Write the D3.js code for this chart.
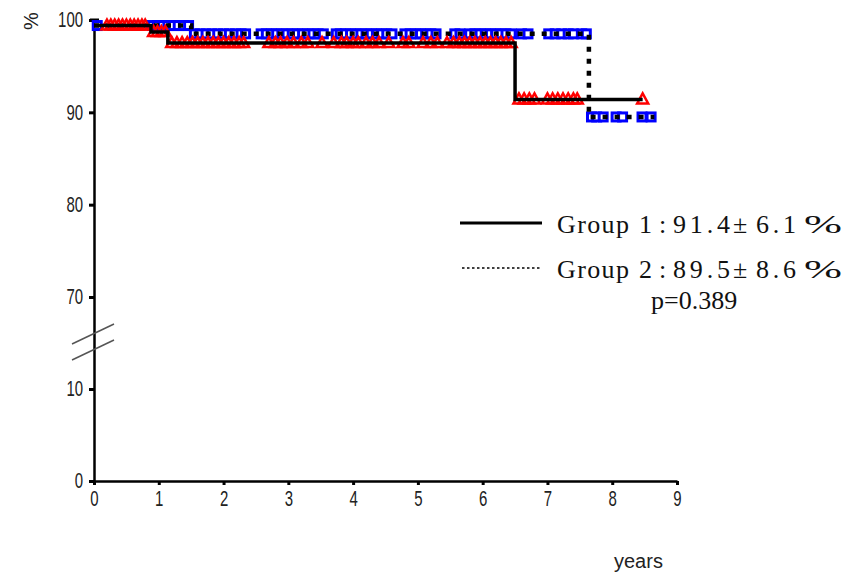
<!DOCTYPE html>
<html>
<head>
<meta charset="utf-8">
<script src="https://cdn.jsdelivr.net/npm/d3@7"></script>
<style>
  body { margin: 0; background: white; }
  svg { display: block; }
</style>
</head>
<body>
<script>
// axis ticks
const xTicks = [0, 1, 2, 3, 4, 5, 6, 7, 8, 9];
const yTicks = [0, 10, 70, 80, 90, 100];

// group 1 (solid, red triangles)
const g1StepTimes = [0, 0.88, 1.14, 6.5];
const g1StepValues = [99.4, 98.7, 97.5, 91.4];
const g1EndTime = 8.47;
const g1Censored = [
    0.2, 0.26, 0.32, 0.38, 0.44, 0.5, 0.56, 0.62, 0.68, 0.74, 0.79,
    0.92, 0.98, 1.04, 1.1,
    1.2, 1.28, 1.36, 1.44, 1.52, 1.6, 1.68, 1.76, 1.84, 1.92, 2.0, 2.08, 2.16, 2.24, 2.31,
    2.7, 2.8, 2.88, 2.98, 3.08, 3.2, 3.3, 3.52, 3.7, 3.82, 3.9, 4.0, 4.08, 4.2, 4.3, 4.4,
    4.55, 4.77, 4.86, 5.08, 5.2, 5.3, 5.45, 5.55, 5.64, 5.72, 5.8, 5.88, 5.96, 6.04,
    6.12, 6.2, 6.28, 6.36, 6.44,
    6.56, 6.64, 6.72, 6.8, 7.0, 7.08, 7.16, 7.24, 7.32, 7.4, 7.46, 8.47
];

// group 2 (dotted, blue squares)
const g2StepTimes = [0, 1.5, 7.64];
const g2StepValues = [99.4, 98.5, 89.5];
const g2EndTime = 8.65;
const g2Censored = [
    0.05, 0.9, 0.98, 1.06, 1.14, 1.22, 1.3, 1.38, 1.46,
    1.55, 1.64, 1.73, 1.82, 1.91, 2.0, 2.09, 2.18, 2.27, 2.34,
    2.58, 2.66, 2.74, 2.82, 2.9, 2.98, 3.06, 3.14, 3.22, 3.3, 3.38, 3.46, 3.54,
    3.74, 3.8, 3.88, 3.96, 4.04, 4.12, 4.2, 4.28, 4.36, 4.44, 4.52, 4.6,
    4.8, 4.88, 4.96, 5.04, 5.12, 5.2, 5.28, 5.57, 5.65,
    5.8, 5.88, 5.96, 6.04, 6.12, 6.2, 6.28, 6.36, 6.44, 6.6, 6.7,
    7.02, 7.12, 7.22, 7.32, 7.4, 7.53, 7.6,
    7.68, 7.76, 7.86, 8.06, 8.16, 8.46, 8.6
];

// legend: survival estimate and its ± part, per group
const legendNames = ["Group", "Group"];
const legendNums = ["1", "2"];
const legendEst = ["91.4", "89.5"];
const legendErr = ["6.1", "8.6"];
const pText = "p=0.389";

const width = 854, height = 577;

const svg = d3.select("body").append("svg")
    .attr("width", width)
    .attr("height", height);

svg.append("rect").attr("width", width).attr("height", height).attr("fill", "white");

const x = d3.scaleLinear().domain([0, 9]).range([94, 677]);
// broken axis: 10..70 squeezed into one interval
const y = d3.scaleLinear().domain([0, 10, 70, 100]).range([481, 389, 297, 20]);

const tickFont = "'Liberation Sans', Arial, sans-serif";
const sx = 0.88, sy = 1.25;

// y axis
const yAxis = svg.append("g")
    .attr("transform", `translate(${x(0)},0)`)
    .call(d3.axisLeft(y).tickValues(yTicks).tickSize(5).tickSizeOuter(0).tickPadding(6));
yAxis.select(".domain").attr("stroke", "black").attr("stroke-width", 2.5);
yAxis.selectAll(".tick line").attr("stroke", "black").attr("stroke-width", 3);
yAxis.selectAll(".tick text")
    .style("font-family", tickFont)
    .style("font-size", "17px")
    .attr("fill", "#222")
    .attr("x", -11 / sx)
    .attr("y", -1 / sy)
    .attr("dy", "0.36em")
    .attr("transform", `scale(${sx},${sy})`);
// little cap at the top of the y axis
yAxis.append("line")
    .attr("x1", -4).attr("x2", 5)
    .attr("y1", y(100)).attr("y2", y(100))
    .attr("stroke", "black").attr("stroke-width", 3);

// x axis
const xAxis = svg.append("g")
    .attr("transform", `translate(0,${y(0)})`)
    .call(d3.axisBottom(x).tickValues(xTicks).tickSize(4).tickSizeOuter(0).tickPadding(6));
xAxis.select(".domain").attr("stroke", "black").attr("stroke-width", 2.5);
xAxis.selectAll(".tick line").attr("stroke", "black").attr("stroke-width", 3);
xAxis.selectAll(".tick text")
    .style("font-family", tickFont)
    .style("font-size", "17px")
    .attr("fill", "#222")
    .attr("y", 10 / sy)
    .attr("transform", `scale(${sx},${sy})`);

// break marks between 10 and 70
const breakMid = (y(10) + y(70)) / 2;
[-9, 7].forEach(off => {
    svg.append("line")
        .attr("x1", x(0) - 22).attr("y1", breakMid + off + 10)
        .attr("x2", x(0) + 20).attr("y2", breakMid + off - 10)
        .attr("stroke", "#555")
        .attr("stroke-width", 1.5);
});

// axis titles
svg.append("text")
    .attr("transform", "translate(33,21) rotate(-90)")
    .attr("text-anchor", "middle")
    .attr("dominant-baseline", "middle")
    .style("font-family", tickFont)
    .style("font-size", "20px")
    .attr("fill", "#222")
    .text("%");

svg.append("text")
    .attr("x", 614).attr("y", 568)
    .style("font-family", "'Liberation Sans', Arial, sans-serif")
    .style("font-size", "20px")
    .attr("fill", "#222")
    .text("years");

// curves
function stepPoints(times, values, end) {
    var pts = times.map((t, i) => [t, values[i]]);
    pts.push([end, values[values.length - 1]]);
    return pts;
}

function valueAt(times, values, t) {
    var v = values[0];
    times.forEach((s, i) => { if (s <= t) v = values[i]; });
    return v;
}

const stepLine = d3.line()
    .x(d => x(d[0]))
    .y(d => y(d[1]))
    .curve(d3.curveStepAfter);

const plot = svg.append("g");

// group 2 markers + dotted line
plot.append("g").selectAll("rect")
    .data(g2Censored)
    .join("rect")
    .attr("x", d => x(d) - 4)
    .attr("y", d => y(valueAt(g2StepTimes, g2StepValues, d)) - 4)
    .attr("width", 8)
    .attr("height", 8)
    .attr("fill", "white")
    .attr("stroke", "#0000ff")
    .attr("stroke-width", 3);

plot.append("path")
    .datum(stepPoints(g2StepTimes, g2StepValues, g2EndTime))
    .attr("d", stepLine)
    .attr("fill", "none")
    .attr("stroke", "black")
    .attr("stroke-width", 4.5)
    .attr("stroke-dasharray", "5,7");

// group 1 markers + solid line
const tri = "M0,-6L5.5,4L-5.5,4Z";
plot.append("g").selectAll("path")
    .data(g1Censored)
    .join("path")
    .attr("d", tri)
    .attr("transform", d => `translate(${x(d)},${y(valueAt(g1StepTimes, g1StepValues, d))})`)
    .attr("fill", "none")
    .attr("stroke", "#ff0000")
    .attr("stroke-width", 2.5);

plot.append("path")
    .datum(stepPoints(g1StepTimes, g1StepValues, g1EndTime))
    .attr("d", stepLine)
    .attr("fill", "none")
    .attr("stroke", "black")
    .attr("stroke-width", 3.5);

// legend
const legendFont = "'Liberation Serif', 'Times New Roman', serif";
const legendRows = [223, 268];
const legend = svg.append("g");

legend.append("line")
    .attr("x1", 460).attr("x2", 542)
    .attr("y1", legendRows[0]).attr("y2", legendRows[0])
    .attr("stroke", "black").attr("stroke-width", 3);
legend.append("line")
    .attr("x1", 462).attr("x2", 540)
    .attr("y1", legendRows[1]).attr("y2", legendRows[1])
    .attr("stroke", "black").attr("stroke-width", 1.5)
    .attr("stroke-dasharray", "2.5,2.5");

legendRows.forEach((ry, i) => {
    var t = legend.append("text")
        .attr("y", ry + 10)
        .style("font-family", legendFont)
        .style("font-size", "26px")
        .attr("fill", "#111");
    t.append("tspan").attr("x", 557).attr("textLength", 72).attr("lengthAdjust", "spacing").text(legendNames[i]);
    t.append("tspan").attr("x", 639).text(legendNums[i]);
    t.append("tspan").attr("x", 659).text(":");
    t.append("tspan").attr("x", 673).attr("textLength", 57).attr("lengthAdjust", "spacing").text(legendEst[i]);
    t.append("tspan").attr("x", 733).text("\u00b1");
    t.append("tspan").attr("x", 756).attr("textLength", 40).attr("lengthAdjust", "spacing").text(legendErr[i]);
    t.append("tspan").attr("x", 804).attr("textLength", 38).attr("lengthAdjust", "spacingAndGlyphs").text("%");
});

legend.append("text")
    .attr("x", 651).attr("y", 309)
    .style("font-family", legendFont)
    .style("font-size", "26px")
    .attr("fill", "#111")
    .text(pText);
</script>
</body>
</html>
